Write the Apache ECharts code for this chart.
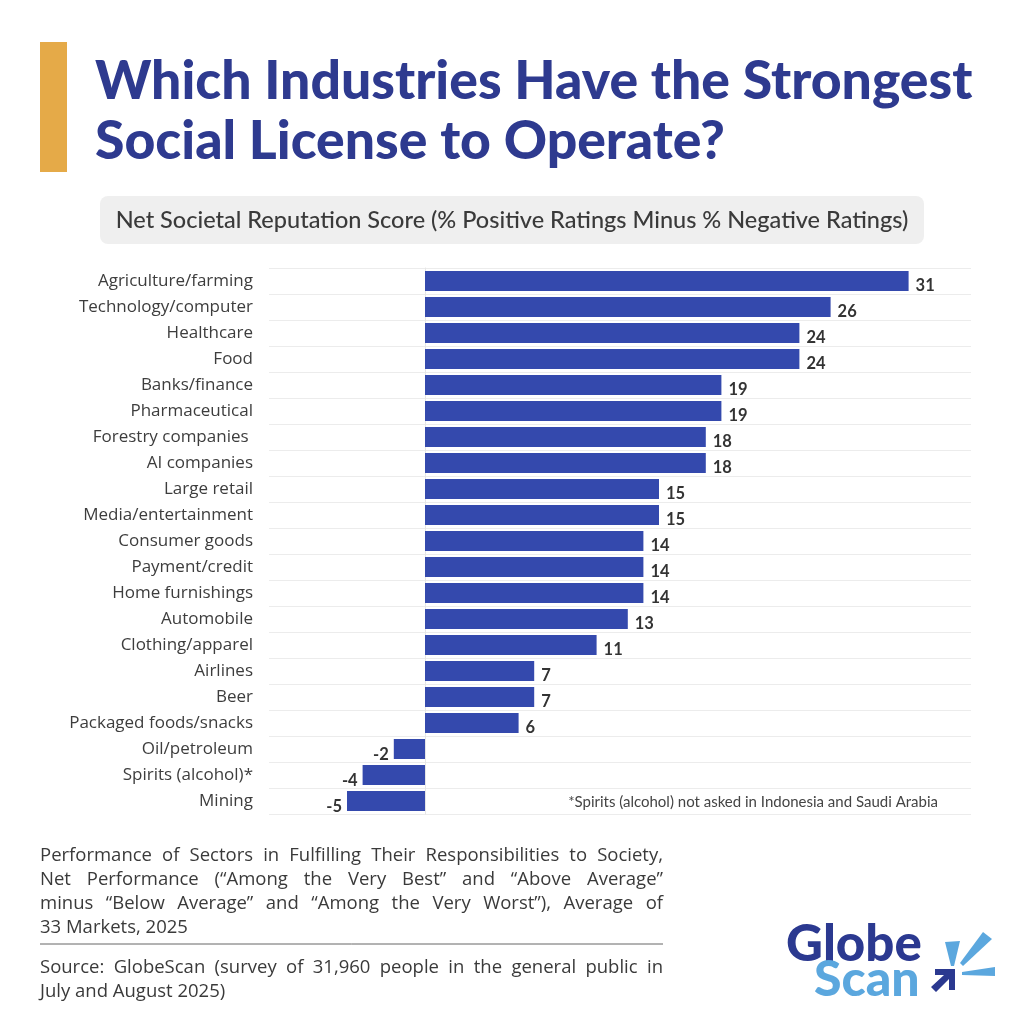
<!DOCTYPE html>
<html>
<head>
<meta charset="utf-8">
<script src="https://cdn.jsdelivr.net/npm/echarts@6/dist/echarts.min.js"></script>
<style>
  html, body { margin: 0; padding: 0; background: #fff; }
  #main { width: 1024px; height: 1024px; }
</style>
</head>
<body>
<div id="main"></div>
<script>
// 数据
var industries = [
    'Agriculture/farming', 'Technology/computer', 'Healthcare', 'Food',
    'Banks/finance', 'Pharmaceutical', 'Forestry companies ', 'AI companies',
    'Large retail', 'Media/entertainment', 'Consumer goods', 'Payment/credit',
    'Home furnishings', 'Automobile', 'Clothing/apparel', 'Airlines', 'Beer',
    'Packaged foods/snacks', 'Oil/petroleum', 'Spirits (alcohol)*', 'Mining'
];
var scores = [31, 26, 24, 24, 19, 19, 18, 18, 15, 15, 14, 14, 14, 13, 11, 7, 7, 6, -2, -4, -5];

var titleLines = ['Which Industries Have the Strongest', 'Social License to Operate?'];
var subtitleText = 'Net Societal Reputation Score (% Positive Ratings Minus % Negative Ratings)';
var footnoteText = '*Spirits (alcohol) not asked in Indonesia and Saudi Arabia';
var noteLines = [
    'Performance of Sectors in Fulfilling Their Responsibilities to Society,',
    'Net Performance (\u201cAmong the Very Best\u201d and \u201cAbove Average\u201d',
    'minus \u201cBelow Average\u201d and \u201cAmong the Very Worst\u201d), Average of',
    '33 Markets, 2025'
];
var sourceLines = [
    'Source: GlobeScan (survey of 31,960 people in the general public in',
    'July and August 2025)'
];

var myChart = echarts.init(document.getElementById('main'));

var barColor = '#3449ad';
var navy = '#2e3a8f';
var noteFont = '18.5px "Open Sans"';

// 柱子数据，负值标签放左边
var barData = scores.map(function (v) {
    return {
        value: v,
        label: v < 0 ? { position: 'left', offset: [0, 6] } : { position: 'right', offset: [2, 5] }
    };
});

var graphics = [
    { type: 'rect', shape: { x: 40, y: 42, width: 27, height: 130 }, style: { fill: '#e5aa48' } },
    { type: 'rect', shape: { x: 100, y: 196, width: 824, height: 48, r: 8 }, style: { fill: '#efefef' } },
    {
        type: 'text', x: 512, y: 220,
        style: { text: subtitleText, fill: '#3a3a3a', font: '500 23.5px Lato', align: 'center', verticalAlign: 'middle' }
    },
    {
        type: 'text', x: 938, y: 802,
        style: { text: footnoteText, fill: '#444', font: '15px Lato', align: 'right', verticalAlign: 'middle' }
    },
    { type: 'line', shape: { x1: 40, y1: 944, x2: 663, y2: 944 }, style: { stroke: '#666', lineWidth: 1 } },
    // logo
    {
        type: 'text', x: 786, y: 945,
        style: { text: 'Globe', fill: '#2b3990', font: '900 51px Lato', align: 'left', verticalAlign: 'middle' }
    },
    {
        type: 'text', x: 814, y: 980,
        style: { text: 'Scan', fill: '#5ba7de', font: '900 50px Lato', align: 'left', verticalAlign: 'middle' }
    },
    { type: 'polygon', shape: { points: [[945, 942], [960, 941], [954, 966], [951, 966]] }, style: { fill: '#5ba7de' } },
    { type: 'polygon', shape: { points: [[983, 932], [992, 939], [963, 966], [960, 963]] }, style: { fill: '#5ba7de' } },
    { type: 'polygon', shape: { points: [[995, 967], [995, 976], [962, 975], [962, 972]] }, style: { fill: '#5ba7de' } },
    {
        type: 'polygon',
        shape: { points: [[935, 969], [955, 969], [955, 990], [949, 990], [949, 979], [936, 992], [931, 987], [944, 975], [935, 975]] },
        style: { fill: '#2b3990' }
    }
];

titleLines.forEach(function (t, i) {
    graphics.push({
        type: 'text', x: 95, y: 82 + i * 60,
        style: { text: t, fill: navy, font: '900 53.5px Lato', align: 'left', verticalAlign: 'middle' }
    });
});

// 两端对齐：逐词摆放
var ctx = document.createElement('canvas').getContext('2d');
ctx.font = noteFont;
function pushLine(text, y, justify) {
    if (!justify) {
        graphics.push({
            type: 'text', x: 40, y: y,
            style: { text: text, fill: '#3a3a3a', font: noteFont, align: 'left', verticalAlign: 'middle' }
        });
        return;
    }
    var words = text.split(' ');
    var widths = words.map(function (w) { return ctx.measureText(w).width; });
    var total = widths.reduce(function (a, b) { return a + b; }, 0);
    var gap = (663 - 40 - total) / (words.length - 1);
    var x = 40;
    words.forEach(function (w, k) {
        graphics.push({
            type: 'text', x: x, y: y,
            style: { text: w, fill: '#3a3a3a', font: noteFont, align: 'left', verticalAlign: 'middle' }
        });
        x += widths[k] + gap;
    });
}
noteLines.forEach(function (t, i) {
    pushLine(t, 856 + i * 24, i < noteLines.length - 1);
});
sourceLines.forEach(function (t, i) {
    pushLine(t, 968 + i * 24, i < sourceLines.length - 1);
});

option = {
    backgroundColor: '#fff',
    animation: false,
    grid: { left: 269, right: 53, top: 268, height: 546 },
    xAxis: {
        type: 'value',
        min: -10,
        max: 35,
        show: false
    },
    yAxis: {
        type: 'category',
        data: industries,
        inverse: true,
        axisTick: { show: false },
        axisLine: { show: true, lineStyle: { color: '#e6e6e6', width: 1 } },
        splitLine: { show: true, lineStyle: { color: '#ececec', width: 1 } },
        axisLabel: {
            color: '#3d3d3d',
            fontSize: 17,
            fontFamily: 'Open Sans',
            margin: 16
        }
    },
    series: [
        {
            type: 'bar',
            data: barData,
            barWidth: 20,
            itemStyle: { color: barColor },
            label: {
                show: true,
                color: '#333',
                fontSize: 16.5,
                fontWeight: 'bold',
                fontFamily: 'Lato'
            }
        }
    ],
    graphic: graphics
};

myChart.setOption(option);
</script>
</body>
</html>
